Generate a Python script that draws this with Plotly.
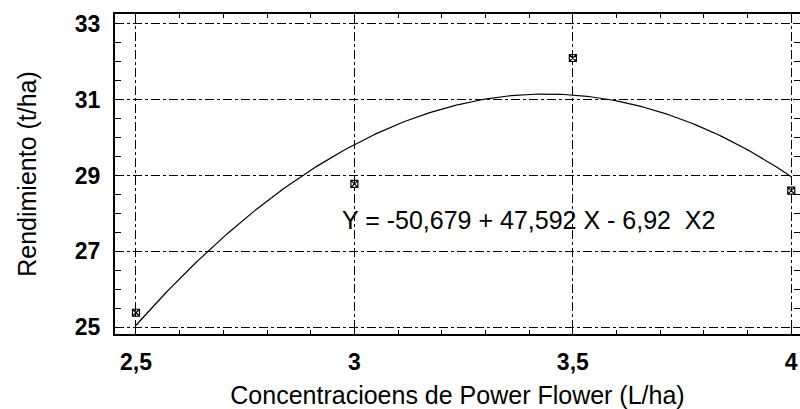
import numpy as np
import plotly.graph_objects as go

# Data
conc = [2.5, 3.0, 3.5, 4.0]
rendimiento = [25.38, 28.78, 32.1, 28.6]
# fitted quadratic shown on the chart: Y = b0 + b1 X + b2 X^2
coef = [-50.679, 47.592, -6.92]
x_ticks = [2.5, 3.0, 3.5, 4.0]
x_ticktext = ["2,5", "3", "3,5", "4"]
y_ticks = [25, 27, 29, 31, 33]
y_ticktext = ["25", "27", "29", "31", "33"]
equation = "Y = -50,679 + 47,592 X - 6,92  X2"

xc = np.linspace(conc[0], conc[-1], 200)
yc = coef[0] + coef[1] * xc + coef[2] * xc ** 2

fig = go.Figure()
fig.add_trace(go.Scatter(x=xc, y=yc, mode="lines",
                         line=dict(color="black", width=1.2), hoverinfo="skip"))
fig.add_trace(go.Scatter(x=conc, y=rendimiento, mode="markers",
                         marker=dict(symbol="square-x-open", size=7, color="black",
                                     line=dict(width=1.2, color="black"))))

fig.add_annotation(x=3.398, y=27.82, text=equation, showarrow=False,
                   font=dict(family="Liberation Sans, Arial", size=25, color="black"))

tickfont = dict(family="Liberation Sans, Arial", size=23, color="black", weight="bold")
titlefont = dict(family="Liberation Sans, Arial", size=25, color="black")

fig.update_layout(
    width=800, height=409,
    margin=dict(l=115, r=0, t=14, b=75, autoexpand=False),
    paper_bgcolor="white", plot_bgcolor="white",
    showlegend=False,
    xaxis=dict(range=[2.452, 4.02], tickvals=x_ticks, ticktext=x_ticktext,
               automargin=False,
               showgrid=True, gridcolor="black", gridwidth=1, griddash="dashdot",
               zeroline=False, showline=True, linecolor="black", linewidth=2,
               mirror="allticks", ticks="inside", ticklen=5, tickcolor="black",
               minor=dict(dtick=0.1, tick0=2.5, ticks="inside", ticklen=4,
                          tickcolor="black", showgrid=False),
               tickfont=tickfont, ticklabelstandoff=6,
               title=dict(text="Concentracioens de Power Flower (L/ha)",
                          font=titlefont, standoff=17)),
    yaxis=dict(range=[24.82, 33.26], tickvals=y_ticks, ticktext=y_ticktext,
               automargin=False,
               showgrid=True, gridcolor="black", gridwidth=1, griddash="dashdot",
               zeroline=False, showline=True, linecolor="black", linewidth=2,
               mirror="allticks", ticks="inside", ticklen=5, tickcolor="black",
               minor=dict(dtick=0.5, tick0=25, ticks="inside", ticklen=6,
                          tickcolor="black", showgrid=False),
               tickfont=tickfont, ticklabelstandoff=8,
               title=dict(text="Rendimiento (t/ha)", font=titlefont, standoff=31)),
)

fig.write_html("out.html", config={"displayModeBar": False},
               post_script="document.body.style.margin='0px';document.body.style.overflow='hidden';")
